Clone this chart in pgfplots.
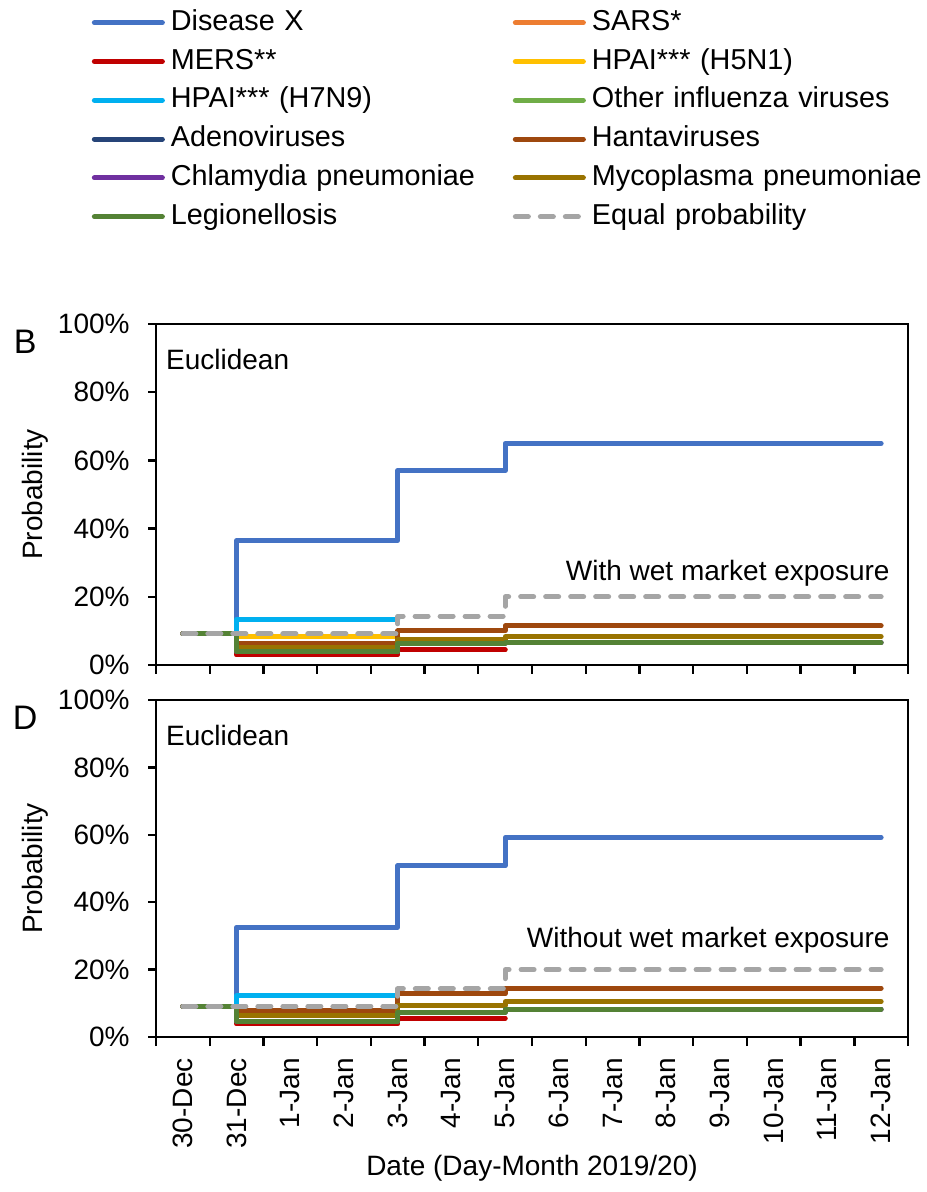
\documentclass[border=0pt]{standalone}
\usepackage{fontspec}
\setmainfont{Liberation Sans}
\usepackage{pgfplots}
\pgfplotsset{compat=1.18}

\definecolor{cX}{HTML}{4472C4}
\definecolor{cSARS}{HTML}{ED7D31}
\definecolor{cMERS}{HTML}{C00000}
\definecolor{cH5}{HTML}{FFC000}
\definecolor{cH7}{HTML}{00B0F0}
\definecolor{cFlu}{HTML}{70AD47}
\definecolor{cAdeno}{HTML}{264478}
\definecolor{cHanta}{HTML}{9E480E}
\definecolor{cChla}{HTML}{7030A0}
\definecolor{cMyco}{HTML}{997300}
\definecolor{cLeg}{HTML}{548235}
\definecolor{cEq}{HTML}{A5A5A5}

\pgfplotsset{
  panel/.style={
    scale only axis, width=376pt,
    xmin=-0.5, xmax=13.5, ymin=0, ymax=100,
    xtick={0,...,13},
    minor xtick={-0.5,0.5,...,13.5},
    major x tick style={draw=none},
    ytick={0,20,...,100},
    yticklabel={\pgfmathprintnumber{\tick}\%},
    /pgf/number format/assume math mode=true,
    tick align=outside, xtick pos=bottom, ytick pos=left,
    major tick length=4pt, minor tick length=4.5pt,
    tick style={black, line width=1.2pt},
    axis line style={line width=1.2pt},
    yticklabel style={inner sep=0pt},
    xticklabel style={rotate=90, anchor=east, inner sep=0pt},
    xticklabel shift=6.5pt, yticklabel shift=9pt,
    every axis y label/.style={at={(axis description cs:-0.161,0.5)}, rotate=90, anchor=center},
    clip=false,
    every axis plot/.append style={line width=2.5pt, line join=round, line cap=round, no markers},
  },
}

\begin{document}
\begin{tikzpicture}[font=\fontsize{14}{16.8}\selectfont]

% panel B
\begin{axis}[panel, at={(78pt,263.5pt)}, anchor=south west, height=170.5pt,
  xticklabels={},
  ylabel={Probability},
  legend columns=2,
  legend cell align=left,
  legend image code/.code={\draw plot coordinates {(0pt,0pt) (17pt,0pt) (34pt,0pt)};},
  legend style={at={(-0.0938,1.936)}, anchor=north west, draw=none, fill=none,
    font=\fontsize{14.4}{17}\selectfont, row sep=5.9pt,
    /tikz/every odd column/.style={column sep=3pt},
    nodes={inner sep=0pt, text width=171pt, text height=10.5pt, text depth=3pt, align=left}},
]
\addplot[cX] coordinates {(0,9.09) (1,9.09) (1,36.5) (4,36.5) (4,57.0) (6,57.0) (6,65.0) (13,65.0)};
\addplot[cSARS] coordinates {(0,9.09) (1,9.09) (1,3.0) (4,3.0) (4,4.4) (6,4.4)};
\addplot[cMERS] coordinates {(0,9.09) (1,9.09) (1,3.0) (4,3.0) (4,4.4) (6,4.4)};
\addplot[cH5] coordinates {(0,9.09) (1,9.09) (1,8.5) (4,8.5)};
\addplot[cH7] coordinates {(0,9.09) (1,9.09) (1,13.4) (4,13.4)};
\addplot[cFlu] coordinates {(0,9.09) (1,9.09) (1,3.9) (4,3.9)};
\addplot[cAdeno] coordinates {(0,9.09) (1,9.09) (1,5.1) (4,5.1)};
\addplot[cHanta] coordinates {(0,9.09) (1,9.09) (1,6.4) (4,6.4) (4,10.0) (6,10.0) (6,11.5) (13,11.5)};
\addplot[cChla] coordinates {(0,9.09) (1,9.09) (1,3.9) (4,3.9) (4,6.4) (6,6.4) (6,6.5) (13,6.5)};
\addplot[cMyco] coordinates {(0,9.09) (1,9.09) (1,5.1) (4,5.1) (4,7.5) (6,7.5) (6,8.3) (13,8.3)};
\addplot[cLeg] coordinates {(0,9.09) (1,9.09) (1,3.9) (4,3.9) (4,6.4) (6,6.4) (6,6.5) (13,6.5)};
\addplot[cEq, dash pattern=on 6.5pt off 6pt] coordinates {(0,9.09) (4,9.09) (4,14.29) (6,14.29) (6,20.0) (13,20.0)};
\legend{Disease X, SARS*, MERS**, HPAI*** (H5N1), HPAI*** (H7N9), Other influenza viruses,
  Adenoviruses, Hantaviruses, Chlamydia pneumoniae, Mycoplasma pneumoniae, Legionellosis, Equal probability}
\node[anchor=center, font=\fontsize{17}{20}\selectfont] at (rel axis cs:-0.174,0.947) {B};
\node[anchor=west, inner sep=0pt] at (rel axis cs:0.013,0.897) {Euclidean};
\node[anchor=east, inner sep=0pt] at (rel axis cs:0.976,0.27) {With wet market exposure};
\end{axis}

% panel D
\begin{axis}[panel, at={(78pt,77.5pt)}, anchor=south west, height=168.5pt,
  xticklabels={30-Dec,31-Dec,1-Jan,2-Jan,3-Jan,4-Jan,5-Jan,6-Jan,7-Jan,8-Jan,9-Jan,10-Jan,11-Jan,12-Jan},
  ylabel={Probability},
  xlabel={Date (Day-Month 2019/20)},
  every axis x label/.style={at={(axis description cs:0.5,-0.389)}, anchor=center},
]
\addplot[cX] coordinates {(0,9.09) (1,9.09) (1,32.6) (4,32.6) (4,50.8) (6,50.8) (6,59.2) (13,59.2)};
\addplot[cSARS] coordinates {(0,9.09) (1,9.09) (1,3.9) (4,3.9) (4,5.6) (6,5.6)};
\addplot[cMERS] coordinates {(0,9.09) (1,9.09) (1,3.9) (4,3.9) (4,5.6) (6,5.6)};
\addplot[cH5] coordinates {(0,9.09) (1,9.09) (1,7.9) (4,7.9)};
\addplot[cH7] coordinates {(0,9.09) (1,9.09) (1,12.2) (4,12.2)};
\addplot[cFlu] coordinates {(0,9.09) (1,9.09) (1,4.7) (4,4.7)};
\addplot[cAdeno] coordinates {(0,9.09) (1,9.09) (1,6.3) (4,6.3)};
\addplot[cHanta] coordinates {(0,9.09) (1,9.09) (1,7.9) (4,7.9) (4,12.8) (6,12.8) (6,14.5) (13,14.5)};
\addplot[cChla] coordinates {(0,9.09) (1,9.09) (1,4.7) (4,4.7) (4,7.4) (6,7.4) (6,8.3) (13,8.3)};
\addplot[cMyco] coordinates {(0,9.09) (1,9.09) (1,6.3) (4,6.3) (4,9.3) (6,9.3) (6,10.5) (13,10.5)};
\addplot[cLeg] coordinates {(0,9.09) (1,9.09) (1,4.7) (4,4.7) (4,7.4) (6,7.4) (6,8.3) (13,8.3)};
\addplot[cEq, dash pattern=on 6.5pt off 6pt] coordinates {(0,9.09) (4,9.09) (4,14.29) (6,14.29) (6,20.0) (13,20.0)};
\node[anchor=center, font=\fontsize{17}{20}\selectfont] at (rel axis cs:-0.174,0.946) {D};
\node[anchor=west, inner sep=0pt] at (rel axis cs:0.013,0.895) {Euclidean};
\node[anchor=east, inner sep=0pt] at (rel axis cs:0.976,0.287) {Without wet market exposure};
\end{axis}

\pgfresetboundingbox
\useasboundingbox (0,0) rectangle (463pt,596pt);
\end{tikzpicture}
\end{document}
